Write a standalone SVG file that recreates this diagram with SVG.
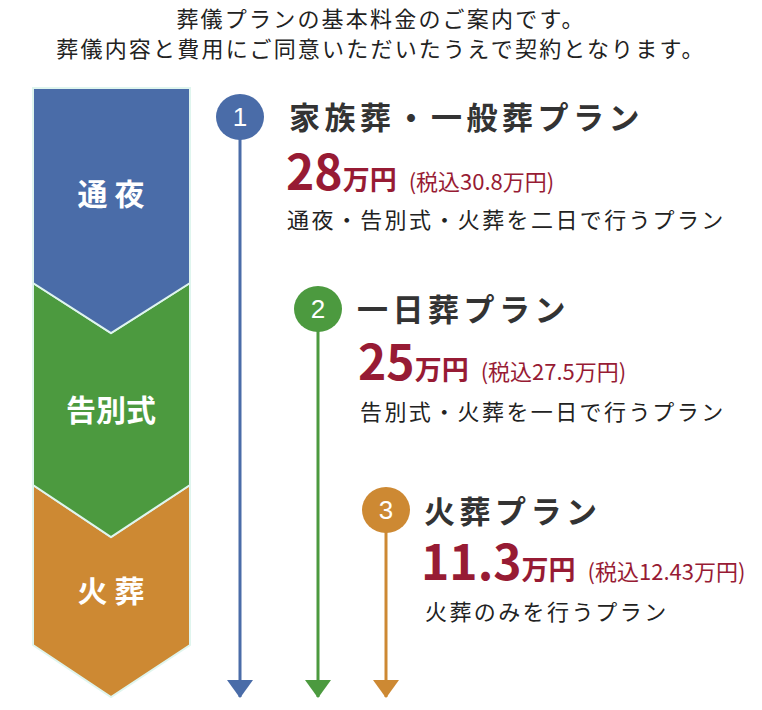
<svg xmlns="http://www.w3.org/2000/svg" width="762" height="710" viewBox="0 0 762 710">
<style>
text{font-family:"Noto Sans CJK JP","Noto Sans",sans-serif}
.h{font-size:22px;fill:#222;text-anchor:middle;letter-spacing:2.2px}
.t{font-size:31px;font-weight:bold;fill:#333;letter-spacing:4.5px}
.p{font-weight:bold;fill:#971b34}
.d{font-size:22px;fill:#222;letter-spacing:2.4px}
.s{font-size:30px;font-weight:bold;fill:#fff;text-anchor:middle}
.n{font-size:26px;fill:#fff;text-anchor:middle;font-family:"Liberation Sans",sans-serif}
.x{font-size:22px;font-weight:normal}
</style>
<defs>
<marker id="ab" markerWidth="26" markerHeight="18" refX="13" refY="17" markerUnits="userSpaceOnUse" viewBox="0 0 26 18"><path d="M0,0H26L13,18Z" fill="#4a6ca8"/></marker>
<marker id="ag" markerWidth="26" markerHeight="18" refX="13" refY="17" markerUnits="userSpaceOnUse" viewBox="0 0 26 18"><path d="M0,0H26L13,18Z" fill="#4c9a3f"/></marker>
<marker id="ao" markerWidth="26" markerHeight="18" refX="13" refY="17" markerUnits="userSpaceOnUse" viewBox="0 0 26 18"><path d="M0,0H26L13,18Z" fill="#cd8933"/></marker>
</defs>
<text class="h" x="381" y="27">葬儀プランの基本料金のご案内です。</text>
<text class="h" x="381" y="57">葬儀内容と費用にご同意いただいたうえで契約となります。</text>
<g id="stage3"><path d="M33,485L111,537L190,485V645L111,697L33,645Z" fill="#cd8933" stroke="#dff5ee" stroke-width="2"/><text class="s" x="111" y="602">火 葬</text></g>
<g id="stage2"><path d="M33,283L111,333L190,283V485L111,537L33,485Z" fill="#4c9a3f" stroke="#dff5ee" stroke-width="2"/><text class="s" x="111" y="421">告別式</text></g>
<g id="stage1"><path d="M33,88H190V283L111,333L33,283Z" fill="#4a6ca8" stroke="#dff5ee" stroke-width="2"/><text class="s" x="111" y="205">通 夜</text></g>
<g id="connectors">
<line x1="240" y1="135" x2="240" y2="697" stroke="#4a6ca8" stroke-width="3" marker-end="url(#ab)"/>
<line x1="318" y1="325" x2="318" y2="697" stroke="#4c9a3f" stroke-width="3" marker-end="url(#ag)"/>
<line x1="386" y1="525" x2="386" y2="697" stroke="#cd8933" stroke-width="3" marker-end="url(#ao)"/>
</g>
<g id="plan1">
<ellipse cx="240" cy="117" rx="24" ry="23" fill="#4a6ca8"/><text class="n" x="240" y="126">1</text>
<text class="t" x="289" y="129">家族葬・一般葬プラン</text>
<text class="p" x="286" y="190"><tspan font-size="48">28</tspan><tspan font-size="27">万円</tspan><tspan class="x" dx="12">(税込30.8万円)</tspan></text>
<text class="d" x="287" y="228">通夜・告別式・火葬を二日で行うプラン</text>
</g>
<g id="plan2">
<ellipse cx="318" cy="309" rx="24" ry="23" fill="#4c9a3f"/><text class="n" x="318" y="318">2</text>
<text class="t" x="357" y="321">一日葬プラン</text>
<text class="p" x="358" y="380"><tspan font-size="48">25</tspan><tspan font-size="27">万円</tspan><tspan class="x" dx="12">(税込27.5万円)</tspan></text>
<text class="d" x="360" y="420">告別式・火葬を一日で行うプラン</text>
</g>
<g id="plan3">
<ellipse cx="386" cy="510" rx="24" ry="23" fill="#cd8933"/><text class="n" x="386" y="519">3</text>
<text class="t" x="424" y="523">火葬プラン</text>
<text class="p" x="421" y="580"><tspan font-size="48">11.3</tspan><tspan font-size="27">万円</tspan><tspan class="x" dx="12">(税込12.43万円)</tspan></text>
<text class="d" x="425" y="620">火葬のみを行うプラン</text>
</g>
</svg>
